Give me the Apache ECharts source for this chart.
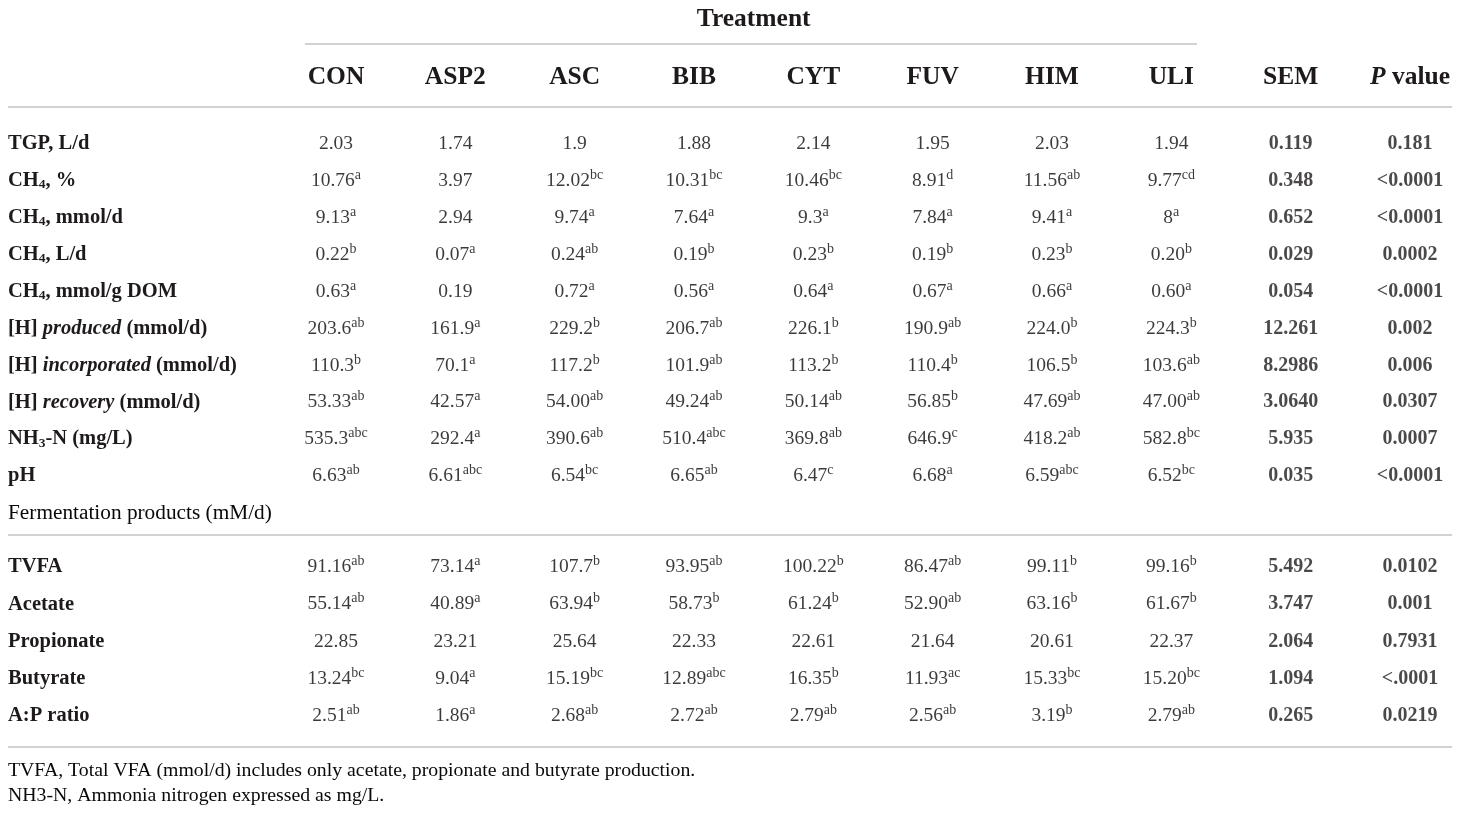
<!DOCTYPE html>
<html>
<head>
<meta charset="utf-8">
<script src="https://cdn.jsdelivr.net/npm/echarts@6/dist/echarts.min.js"></script>
<style>
html,body{margin:0;padding:0;background:#fff;}
#main{width:1460px;height:813px;}
</style>
</head>
<body>
<div id="main"></div>
<script>
// ---- Column headers ----
const columns = ['CON', 'ASP2', 'ASC', 'BIB', 'CYT', 'FUV', 'HIM', 'ULI', 'SEM', 'P value'];
const treatmentTitle = 'Treatment';

// ---- Row labels (rich-text markup) ----
const rowLabelsTop = [
  '{b|TGP, L/d}',
  '{b|CH}{bsub|4}{b|, %}',
  '{b|CH}{bsub|4}{b|, mmol/d}',
  '{b|CH}{bsub|4}{b|, L/d}',
  '{b|CH}{bsub|4}{b|, mmol/g DOM}',
  '{b|[H] }{bi|produced}{b| (mmol/d)}',
  '{b|[H] }{bi|incorporated}{b| (mmol/d)}',
  '{b|[H] }{bi|recovery}{b| (mmol/d)}',
  '{b|NH}{bsub|3}{b|-N (mg/L)}',
  '{b|pH}',
  '{r|Fermentation products (mM/d)}'
];
const rowLabelsBottom = ['TVFA', 'Acetate', 'Propionate', 'Butyrate', 'A:P ratio'];

// ---- Values (value^superscript) ----
const TGP        = ['2.03', '1.74', '1.9', '1.88', '2.14', '1.95', '2.03', '1.94', '0.119', '0.181'];
const CH4pct     = ['10.76^a', '3.97', '12.02^bc', '10.31^bc', '10.46^bc', '8.91^d', '11.56^ab', '9.77^cd', '0.348', '<0.0001'];
const CH4mmol    = ['9.13^a', '2.94', '9.74^a', '7.64^a', '9.3^a', '7.84^a', '9.41^a', '8^a', '0.652', '<0.0001'];
const CH4L       = ['0.22^b', '0.07^a', '0.24^ab', '0.19^b', '0.23^b', '0.19^b', '0.23^b', '0.20^b', '0.029', '0.0002'];
const CH4DOM     = ['0.63^a', '0.19', '0.72^a', '0.56^a', '0.64^a', '0.67^a', '0.66^a', '0.60^a', '0.054', '<0.0001'];
const Hproduced  = ['203.6^ab', '161.9^a', '229.2^b', '206.7^ab', '226.1^b', '190.9^ab', '224.0^b', '224.3^b', '12.261', '0.002'];
const Hincorp    = ['110.3^b', '70.1^a', '117.2^b', '101.9^ab', '113.2^b', '110.4^b', '106.5^b', '103.6^ab', '8.2986', '0.006'];
const Hrecovery  = ['53.33^ab', '42.57^a', '54.00^ab', '49.24^ab', '50.14^ab', '56.85^b', '47.69^ab', '47.00^ab', '3.0640', '0.0307'];
const NH3N       = ['535.3^abc', '292.4^a', '390.6^ab', '510.4^abc', '369.8^ab', '646.9^c', '418.2^ab', '582.8^bc', '5.935', '0.0007'];
const pH         = ['6.63^ab', '6.61^abc', '6.54^bc', '6.65^ab', '6.47^c', '6.68^a', '6.59^abc', '6.52^bc', '0.035', '<0.0001'];

const TVFA       = ['91.16^ab', '73.14^a', '107.7^b', '93.95^ab', '100.22^b', '86.47^ab', '99.11^b', '99.16^b', '5.492', '0.0102'];
const Acetate    = ['55.14^ab', '40.89^a', '63.94^b', '58.73^b', '61.24^b', '52.90^ab', '63.16^b', '61.67^b', '3.747', '0.001'];
const Propionate = ['22.85', '23.21', '25.64', '22.33', '22.61', '21.64', '20.61', '22.37', '2.064', '0.7931'];
const Butyrate   = ['13.24^bc', '9.04^a', '15.19^bc', '12.89^abc', '16.35^b', '11.93^ac', '15.33^bc', '15.20^bc', '1.094', '<.0001'];
const APratio    = ['2.51^ab', '1.86^a', '2.68^ab', '2.72^ab', '2.79^ab', '2.56^ab', '3.19^b', '2.79^ab', '0.265', '0.0219'];

const footnotes = [
  'TVFA, Total VFA (mmol/d) includes only acetate, propionate and butyrate production.',
  'NH3-N, Ammonia nitrogen expressed as mg/L.'
];

const topRows = [TGP, CH4pct, CH4mmol, CH4L, CH4DOM, Hproduced, Hincorp, Hrecovery, NH3N, pH];
const bottomRows = [TVFA, Acetate, Propionate, Butyrate, APratio];

// ---- Build ----
const FONT = '"Liberation Serif", "DejaVu Serif", serif';
const INK = '#1e1a1b';
const INK_REG = '#0a0808';
const RULE = '#d2d2d2';

function cellData(rows) {
  const out = [];
  rows.forEach((row, r) => row.forEach((txt, c) => out.push([c, r, txt])));
  return out;
}
function cellRich(txt, c) {
  const parts = txt.split('^');
  const base = c >= 8 ? 'nb' : 'n';
  let s = '{' + base + '|' + parts[0] + '}';
  if (parts[1]) s += '{s|' + parts[1] + '}';
  return s;
}
const richCell = {
  n: { fontFamily: FONT, fontSize: 19.5, color: INK_REG, lineHeight: 25 },
  nb: { fontFamily: FONT, fontSize: 20, fontWeight: 'bold', color: INK, lineHeight: 25 },
  s: { fontFamily: FONT, fontSize: 14, color: INK_REG, lineHeight: 14, verticalAlign: 'top' }
};
const richRow = {
  b: { fontFamily: FONT, fontSize: 20.5, fontWeight: 'bold', color: INK, lineHeight: 22 },
  bi: { fontFamily: FONT, fontSize: 20.5, fontWeight: 'bold', fontStyle: 'italic', color: INK, lineHeight: 22 },
  bsub: { fontFamily: FONT, fontSize: 13.5, fontWeight: 'bold', color: INK, lineHeight: 14, verticalAlign: 'bottom' },
  r: { fontFamily: FONT, fontSize: 21.3, color: INK_REG, lineHeight: 22 }
};
const richHead = {
  h: { fontFamily: FONT, fontSize: 25.5, fontWeight: 'bold', color: INK },
  hi: { fontFamily: FONT, fontSize: 25.5, fontWeight: 'bold', fontStyle: 'italic', color: INK }
};

const chart = echarts.init(document.getElementById('main'), null, { renderer: 'canvas' });

const yAxisBase = {
  type: 'category', inverse: true, boundaryGap: false,
  axisLine: { show: false }, axisTick: { show: false }, splitLine: { show: false },
  axisLabel: { interval: 0, align: 'left', margin: 328, rich: richRow }
};
const xAxisBase = {
  type: 'category', boundaryGap: false, data: columns,
  axisLine: { show: false }, axisTick: { show: false }, splitLine: { show: false }
};
const seriesBase = {
  type: 'scatter', symbolSize: 0, silent: true,
  label: {
    show: true, position: 'inside',
    formatter: p => cellRich(p.value[2], p.value[0]),
    rich: richCell
  }
};

chart.setOption({
  backgroundColor: '#ffffff',
  animation: false,
  grid: [
    { left: 336, right: 50, top: 144, height: 369 },
    { left: 336, right: 50, top: 567, height: 149 }
  ],
  xAxis: [
    Object.assign({}, xAxisBase, {
      gridIndex: 0, position: 'top',
      axisLabel: {
        interval: 0, showMinLabel: true, showMaxLabel: true, margin: 67, verticalAlign: 'middle',
        formatter: v => v === 'P value' ? '{hi|P}{h| value}' : '{h|' + v + '}',
        rich: richHead
      }
    }),
    Object.assign({}, xAxisBase, { gridIndex: 1, axisLabel: { show: false } })
  ],
  yAxis: [
    Object.assign({}, yAxisBase, { gridIndex: 0, data: rowLabelsTop, axisLabel: Object.assign({}, yAxisBase.axisLabel, { formatter: v => v }) }),
    Object.assign({}, yAxisBase, { gridIndex: 1, data: rowLabelsBottom, axisLabel: Object.assign({}, yAxisBase.axisLabel, { formatter: v => '{b|' + v + '}' }) })
  ],
  series: [
    Object.assign({}, seriesBase, { xAxisIndex: 0, yAxisIndex: 0, data: cellData(topRows) }),
    Object.assign({}, seriesBase, { xAxisIndex: 1, yAxisIndex: 1, data: cellData(bottomRows) })
  ]
});

// Header over treatment columns, rules and footnotes
const xFirst = chart.convertToPixel({ xAxisIndex: 0 }, columns[0]);
const xLastTreat = chart.convertToPixel({ xAxisIndex: 0 }, columns[7]);

function rule(x1, x2, y) {
  return { type: 'line', shape: { x1: x1, y1: y, x2: x2, y2: y }, style: { stroke: RULE, lineWidth: 2 }, silent: true };
}
chart.setOption({
  graphic: [
    { type: 'text', x: (xFirst + xLastTreat) / 2, y: 19, silent: true,
      style: { text: treatmentTitle, font: 'bold 25.5px ' + FONT, fill: INK, textAlign: 'center', textVerticalAlign: 'middle' } },
    rule(305, 1197, 44),
    rule(8, 1452, 107),
    rule(8, 1452, 535),
    rule(8, 1452, 747),
    { type: 'text', x: 8, y: 771, silent: true,
      style: { text: footnotes[0], font: '19.8px ' + FONT, fill: INK_REG, textAlign: 'left', textVerticalAlign: 'middle' } },
    { type: 'text', x: 8, y: 796, silent: true,
      style: { text: footnotes[1], font: '19.8px ' + FONT, fill: INK_REG, textAlign: 'left', textVerticalAlign: 'middle' } }
  ]
});
</script>
</body>
</html>
